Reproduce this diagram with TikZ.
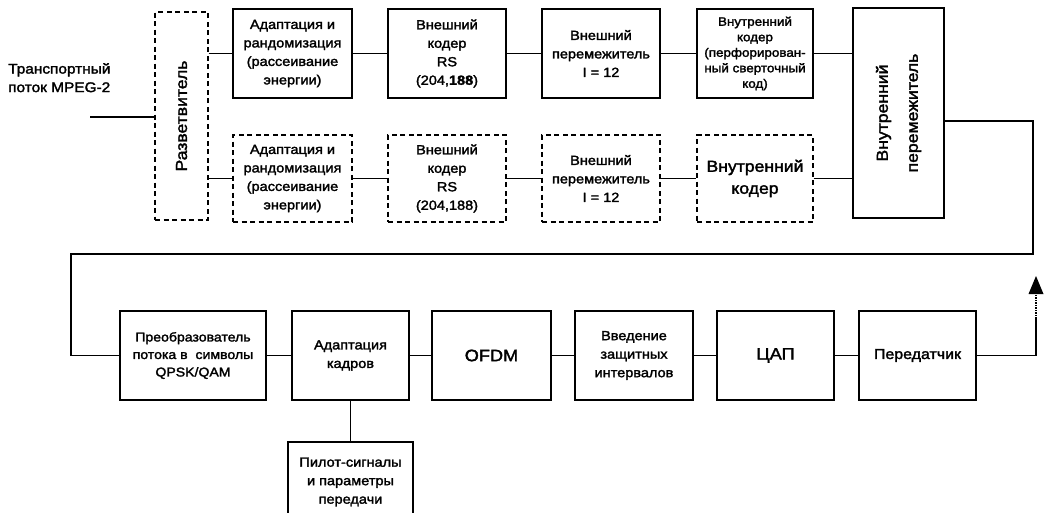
\documentclass[tikz,border=0pt]{standalone}
\usepackage{fontspec}
\setmainfont{Liberation Sans}[FakeStretch=1.1,FakeBold=2]
\usetikzlibrary{arrows.meta}
\newcommand{\fz}[2]{\fontsize{#1}{#2}\selectfont}
\begin{document}
\begin{tikzpicture}[x=1pt,y=-1pt,
  blk/.style={draw,line width=1.8pt,inner sep=0pt,align=center,
    minimum width=#1,minimum height=89pt,font=\fz{13.2}{18.5}},
  blk/.default=118pt,
  dblk/.style={blk=#1,line width=1.4pt,dash pattern=on 5pt off 3.5pt,minimum height=87pt},
  dblk/.default=118pt,
  wire/.style={line width=1.6pt}]
\useasboundingbox (0,0) rectangle (1046,512);
\clip (0,0) rectangle (1046,512);

% transport stream input and splitter
\node[align=left,anchor=north west,inner sep=0pt,font=\fz{14}{18.5}] (ts) at (8,63)
  {Транспортный\\поток MPEG-2};
\node[dblk=53pt,minimum height=208pt] (split) at (181.5,116) {};
\node[rotate=90,font=\fz{16}{18}] (splitlbl) at (split.center) {Разветвитель};
\coordinate (tsin) at (90,117);

% upper (high priority) chain
\node[blk=119pt] (ad1) at (292.5,53.5) {Адаптация и\\рандомизация\\(рассеивание\\энергии)};
\node[blk] (oc1) at (447,53.5) {Внешний\\кодер\\RS\\(204,\textbf{188})};
\node[blk] (oi1) at (601,53.5) {Внешний\\перемежитель\\I = 12};
\node[blk=116pt,font=\fz{12.2}{15.5}] (ic1) at (755,53.5)
  {Внутренний\\кодер\\(перфорирован-\\ный сверточный\\код)};

% lower (low priority) chain
\node[dblk=119pt] (ad2) at (292.5,178.5) {Адаптация и\\рандомизация\\(рассеивание\\энергии)};
\node[dblk] (oc2) at (447,178.5) {Внешний\\кодер\\RS\\(204,188)};
\node[dblk] (oi2) at (601,178.5) {Внешний\\перемежитель\\I = 12};
\node[dblk=116pt,font=\fz{16}{22}] (ic2) at (755,178.5) {Внутренний\\кодер};

% inner interleaver
\node[blk=91pt,minimum height=210pt,line width=1.6pt] (inl) at (898.5,113) {};
\node[rotate=90,align=center,font=\fz{16}{30}] (inllbl) at (inl.center)
  {Внутренний\\перемежитель};

% modulation chain
\node[blk=146pt,font=\fz{12.8}{17.5}] (qpsk) at (193,355.5) {Преобразователь\\потока в\ \ символы\\QPSK/QAM};
\node[blk=117pt] (fa) at (350.5,355.5) {Адаптация\\кадров};
\node[blk=119pt,font=\fz{16.5}{18}] (ofdm) at (491.5,355.5) {OFDM};
\node[blk] (gi) at (634,355.5) {Введение\\защитных\\интервалов};
\node[blk=117pt,font=\fz{16.5}{18}] (dac) at (775.5,355.5) {ЦАП};
\node[blk=117pt,font=\fz{14.5}{18}] (tx) at (917.5,355.5) {Передатчик};
\node[blk=125pt,minimum height=80pt] (pilot) at (350.5,482) {Пилот-сигналы\\и параметры\\передачи};

% routing points
\coordinate (r1) at (1033,121);
\coordinate (r2) at (1033,254);
\coordinate (l1) at (71,254);
\coordinate (a1) at (1036,318);
\coordinate (a3) at (1036,294);
\coordinate (a2) at (1036,276);

% connections
\draw[wire] (tsin) -- (tsin -| split.west);
\draw[wire] (split.east |- ad1.west) -- (ad1.west);
\draw[wire] (split.east |- ad2.west) -- (ad2.west);
\draw[wire] (ad1) -- (oc1);
\draw[wire] (oc1) -- (oi1);
\draw[wire] (oi1) -- (ic1);
\draw[wire] (ic1.east) -- (ic1.east -| inl.west);
\draw[wire] (ad2) -- (oc2);
\draw[wire] (oc2) -- (oi2);
\draw[wire] (oi2) -- (ic2);
\draw[wire] (ic2.east) -- (ic2.east -| inl.west);
\draw[wire] (inl.east |- r1) -- (r1) -- (r2) -- (l1) -- (l1 |- qpsk.west) -- (qpsk.west);
\draw[wire] (qpsk) -- (fa);
\draw[wire] (fa) -- (ofdm);
\draw[wire] (ofdm) -- (gi);
\draw[wire] (gi) -- (dac);
\draw[wire] (dac) -- (tx);
\draw[wire] (fa.south) -- (pilot.north);
\draw[wire] (tx.east) -- (tx.east -| a1) -- (a1);
% dotted lead-in and solid output arrowhead
\draw[line width=1.2pt,dash pattern=on 1.2pt off 1.3pt] ([yshift=-8pt]a1) -- (a3);
\fill (a2) -- ([xshift=-7.5pt]a3) -- ([xshift=7.5pt]a3) -- cycle;
\end{tikzpicture}
\end{document}
